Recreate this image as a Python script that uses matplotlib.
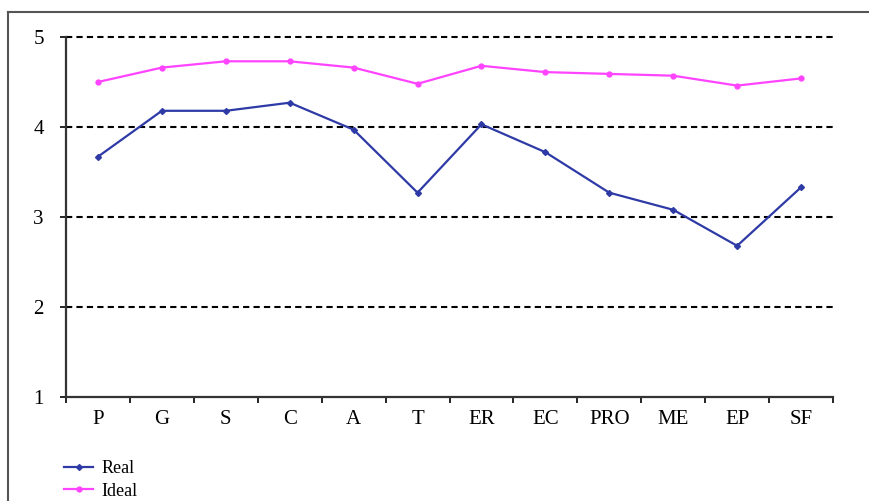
import matplotlib.pyplot as plt
from matplotlib.lines import Line2D

plt.rcParams['font.family'] = ['Liberation Serif', 'DejaVu Serif']

# Datos
categorias = ['P', 'G', 'S', 'C', 'A', 'T', 'ER', 'EC', 'PRO', 'ME', 'EP', 'SF']
real = [3.67, 4.18, 4.18, 4.27, 3.97, 3.27, 4.03, 3.72, 3.27, 3.08, 2.68, 3.33]
ideal = [4.50, 4.66, 4.73, 4.73, 4.66, 4.48, 4.68, 4.61, 4.59, 4.57, 4.46, 4.54]

fig = plt.figure(figsize=(8.7, 5.01), dpi=100)
ax = fig.add_axes([66/870, 1 - 397/501, (833 - 66)/870, 360/501])

x = [i + 0.5 for i in range(len(categorias))]
ax.plot(x, real, color='#2e3aa6', lw=1.6, marker='D', ms=3, label='Real')
ax.plot(x, ideal, color='#ff44ff', lw=1.6, marker='o', ms=3.5, label='Ideal')

ax.set_xlim(0, len(categorias))
ax.set_ylim(1, 5)
ax.set_yticks([1, 2, 3, 4, 5])
ax.set_xticks(range(len(categorias) + 1))
ax.set_xticklabels([])
ax.set_xticks(x, minor=True)
ax.set_xticklabels(categorias, minor=True)
ax.tick_params(axis='x', which='minor', length=0, pad=9, labelsize=15)
ax.tick_params(axis='x', which='major', length=4, width=1.2, direction='out')
ax.tick_params(axis='y', length=4, width=1.2, pad=12, labelsize=15)

for v in [2, 3, 4, 5]:
    ax.axhline(v, color='black', lw=1.5, ls=(0, (3, 2)), zorder=0, clip_on=False)

for s in ['top', 'right']:
    ax.spines[s].set_visible(False)
ax.spines['left'].set_linewidth(1.6)
ax.spines['bottom'].set_linewidth(1.6)
ax.spines['left'].set_color('#333333')
ax.spines['bottom'].set_color('#333333')

# marco exterior
fig.add_artist(Line2D([8/870, 8/870], [0, 1 - 12/501], color='#555555', lw=1.5))
fig.add_artist(Line2D([8/870, 1], [1 - 12/501, 1 - 12/501], color='#555555', lw=1.5))

fig.legend(loc='upper left', bbox_to_anchor=(48/870, 1 - 444/501), frameon=False,
           fontsize=13, handlelength=1.6, handletextpad=0.45, labelspacing=0.3,
           borderpad=0.4)

fig.savefig('out.png', dpi=100)
